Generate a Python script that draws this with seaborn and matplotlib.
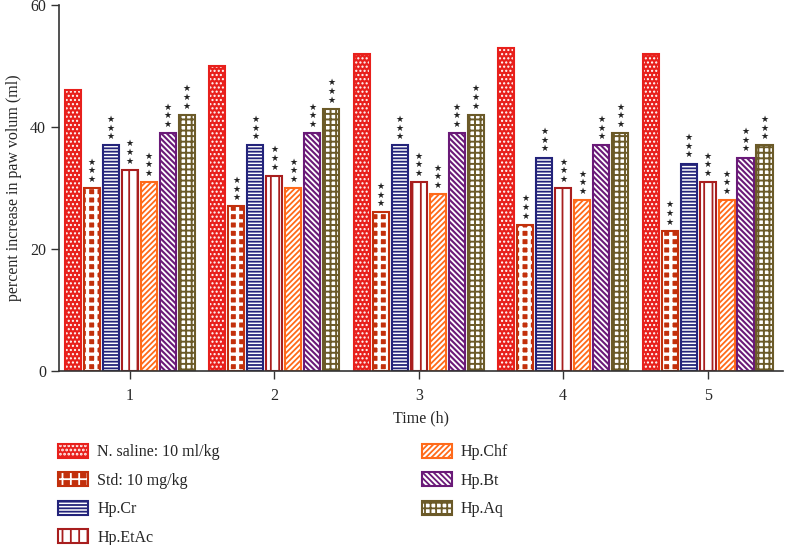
import matplotlib
matplotlib.use("Agg")
import matplotlib.pyplot as plt
import matplotlib.patches as mpatches
from matplotlib.legend_handler import HandlerTuple
import seaborn as sns
import pandas as pd

# values
times = ["1", "2", "3", "4", "5"]
groups = ["N. saline: 10 ml/kg", "Std: 10 mg/kg", "Hp.Cr", "Hp.EtAc", "Hp.Chf", "Hp.Bt", "Hp.Aq"]
saline = [46, 50, 52, 53, 52]
std = [30, 27, 26, 24, 23]
hp_cr = [37, 37, 37, 35, 34]
hp_etac = [33, 32, 31, 30, 31]
hp_chf = [31, 30, 29, 28, 28]
hp_bt = [39, 39, 39, 37, 35]
hp_aq = [42, 43, 42, 39, 37]
stars = ["", "★★★", "★★★", "★★★", "★★★", "★★★", "★★★"]

series = [saline, std, hp_cr, hp_etac, hp_chf, hp_bt, hp_aq]
rows = []
for g, vals in zip(groups, series):
    for t, v in zip(times, vals):
        rows.append({"time": t, "group": g, "value": v})
df = pd.DataFrame(rows)

colors = ["#e8201c", "#c2300c", "#23237a", "#a81e1e", "#ff6a1a", "#6a1a78", "#6b5a28"]
# (face, hatch colour, hatch, hatch width)
styles = [
    ("#e8201c", "white", "....", 1.0),
    ("#c2300c", "white", "++", 2.4),
    ("white", "#23237a", "-----", 1.3),
    ("white", "#a81e1e", "||", 1.3),
    ("white", "#ff6a1a", "//////", 1.3),
    ("white", "#6a1a78", "\\\\\\\\\\\\", 1.5),
    ("white", "#6b5a28", "+++", 1.4),
]


def set_hatch_lw(p, lw):
    if hasattr(p, "set_hatch_linewidth"):
        p.set_hatch_linewidth(lw)
    else:
        p._hatch_linewidth = lw


sns.set_theme(style="ticks")
plt.rcParams["font.family"] = ["Liberation Serif", "DejaVu Serif"]
plt.rcParams["hatch.linewidth"] = 1.3

fig = plt.figure(figsize=(7.89, 5.45), dpi=100)
ax = fig.add_axes([0.075, 0.319, 0.917, 0.672])

sns.barplot(data=df, x="time", y="value", hue="group", hue_order=groups,
            palette=colors, saturation=1, width=0.92, gap=0.15,
            legend=False, ax=ax)

for i, cont in enumerate(ax.containers):
    face, hcol, hatch, hlw = styles[i]
    for bar in cont:
        bar.set_facecolor(face)
        bar.set_edgecolor(hcol)
        bar.set_hatch(hatch)
        bar.set_linewidth(0)
        set_hatch_lw(bar, hlw)
        outline = mpatches.Rectangle(bar.get_xy(), bar.get_width(), bar.get_height(),
                                     fill=False, edgecolor=colors[i], linewidth=1.5,
                                     zorder=bar.get_zorder() + 0.1)
        ax.add_patch(outline)
        if stars[i]:
            ax.annotate("\n".join(stars[i]), xy=(bar.get_x() + bar.get_width() / 2, bar.get_height()),
                        xytext=(0, 3), textcoords="offset points", ha="center", va="bottom",
                        fontsize=6.5, linespacing=0.95, color="#222222",
                        family=["DejaVu Sans"])

ax.set_ylim(0, 60)
ax.set_yticks([0, 20, 40, 60])
ax.set_xlim(-0.49, 4.52)
ax.set_xlabel("Time (h)", fontsize=11.5, labelpad=5)
ax.set_ylabel("percent increase in paw volum (ml)", fontsize=11.5, labelpad=6)
ax.tick_params(axis="both", labelsize=11.5, length=6, width=1, color="#333333")
ax.tick_params(axis="x", pad=6)
sns.despine(ax=ax)
for s in ["left", "bottom"]:
    ax.spines[s].set_color("#333333")
    ax.spines[s].set_linewidth(1.2)

handles = []
for i in range(len(groups)):
    face, hcol, hatch, hlw = styles[i]
    p1 = mpatches.Patch(facecolor=face, edgecolor=hcol, hatch=hatch, linewidth=0)
    set_hatch_lw(p1, hlw)
    p2 = mpatches.Patch(fill=False, edgecolor=colors[i], linewidth=1.5)
    handles.append((p1, p2))

fig.legend(handles, groups, handler_map={tuple: HandlerTuple(ndivide=1, pad=0)},
           loc="upper left", bbox_to_anchor=(0.0735, 0.186), ncol=2, frameon=False,
           fontsize=11.5, handlelength=1.9, handleheight=1.0, labelspacing=0.74,
           handletextpad=0.55, columnspacing=12.65, borderaxespad=0, borderpad=0)

fig.savefig("out.png", dpi=100)
